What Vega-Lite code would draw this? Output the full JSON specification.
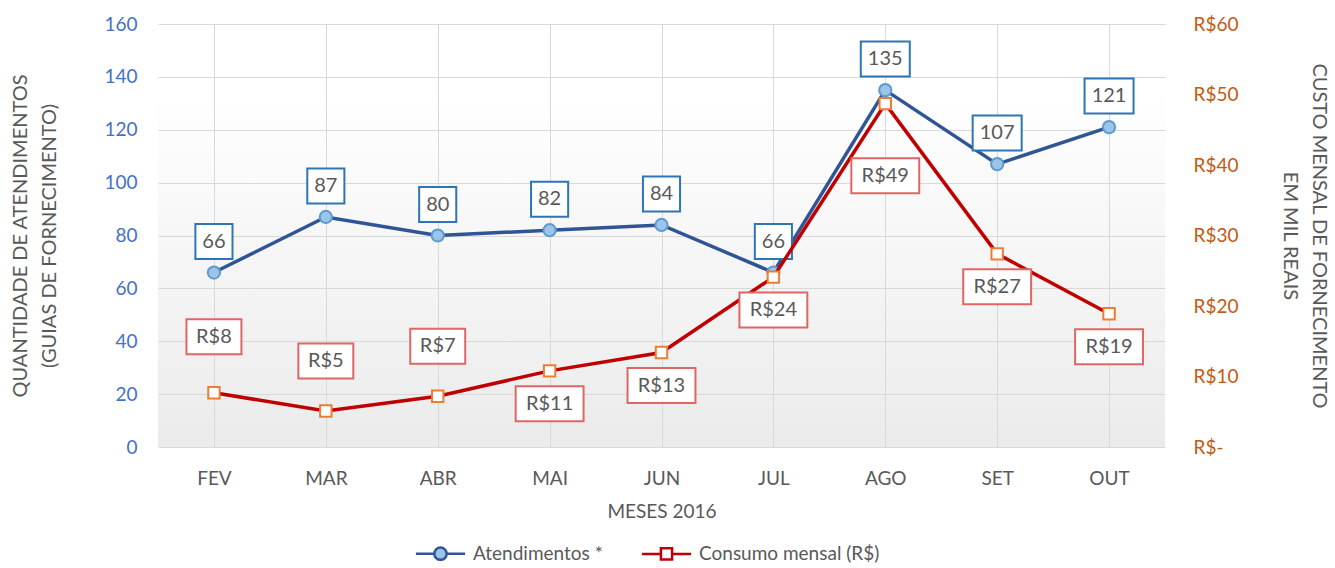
{
  "$schema": "https://vega.github.io/schema/vega-lite/v6.json",
  "width": 1007,
  "height": 423,
  "autosize": "none",
  "padding": {"left": 158, "top": 24, "right": 170, "bottom": 121},
  "background": "white",
  "data": {
    "values": [
      {"mes": "FEV", "atend": 66, "custo": 7.7},
      {"mes": "MAR", "atend": 87, "custo": 5.1},
      {"mes": "ABR", "atend": 80, "custo": 7.2},
      {"mes": "MAI", "atend": 82, "custo": 10.8},
      {"mes": "JUN", "atend": 84, "custo": 13.4},
      {"mes": "JUL", "atend": 66, "custo": 24.1},
      {"mes": "AGO", "atend": 135, "custo": 48.7},
      {"mes": "SET", "atend": 107, "custo": 27.4},
      {"mes": "OUT", "atend": 121, "custo": 18.9}
    ]
  },
  "config": {
    "font": "Lato",
    "view": {
      "stroke": null,
      "fill": {
        "gradient": "linear", "x1": 0, "y1": 0, "x2": 0, "y2": 1,
        "stops": [
          {"offset": 0, "color": "#ffffff"},
          {"offset": 0.15, "color": "#ffffff"},
          {"offset": 1, "color": "#ebebeb"}
        ]
      }
    },
    "axis": {
      "labelFont": "Lato",
      "titleFont": "Lato",
      "titleFontWeight": "normal",
      "gridColor": "#d9d9d9",
      "gridWidth": 1,
      "domain": false,
      "ticks": false
    }
  },
  "encoding": {
    "x": {
      "field": "mes",
      "type": "ordinal",
      "sort": ["FEV", "MAR", "ABR", "MAI", "JUN", "JUL", "AGO", "SET", "OUT"],
      "scale": {"type": "point", "padding": 0.5},
      "axis": {
        "labelAngle": 0,
        "labelColor": "#595959",
        "labelFontSize": 19,
        "labelPadding": 22,
        "grid": true,
        "title": "MESES 2016",
        "titleColor": "#595959",
        "titleFontSize": 19,
        "titlePadding": 14
      }
    }
  },
  "layer": [
    {
      "encoding": {
        "y": {
          "field": "atend",
          "type": "quantitative",
          "scale": {"domain": [0, 160]},
          "axis": {
            "orient": "left",
            "values": [0, 20, 40, 60, 80, 100, 120, 140, 160],
            "labelColor": "#4472C4",
            "labelFontSize": 19,
            "labelPadding": 21,
            "grid": true,
            "title": ["QUANTIDADE DE  ATENDIMENTOS", "(GUIAS DE FORNECIMENTO)"],
            "titleColor": "#595959",
            "titleFontSize": 20,
            "titleLineHeight": 29,
            "titlePadding": 44
          }
        }
      },
      "layer": [
        {
          "mark": {"type": "line", "strokeWidth": 3.5},
          "encoding": {
            "color": {
              "datum": "Atendimentos *",
              "scale": {"domain": ["Atendimentos *", "Consumo mensal (R$)"], "range": ["#2F5597", "#C00000"]},
              "legend": {
                "orient": "none",
                "legendX": 270,
                "legendY": 517,
                "direction": "horizontal",
                "title": null,
                "labelFontSize": 19,
                "labelColor": "#595959",
                "labelFont": "Lato",
                "labelLimit": 400,
                "symbolSize": 500,
                "symbolStrokeWidth": 2.5,
                "columnPadding": 33,
                "labelOffset": 20,
                "encode": {
                  "symbols": {
                    "update": {
                      "shape": {"signal": "datum.value === 'Atendimentos *' ? 'M-2.2,0H-0.55M0.55,0H2.2M-0.55,0A0.55,0.55,0,1,0,0.55,0A0.55,0.55,0,1,0,-0.55,0Z' : 'M-2.2,0H-0.5M0.5,0H2.2M-0.5,-0.5H0.5V0.5H-0.5Z'"},
                      "fill": {"signal": "datum.value === 'Atendimentos *' ? '#9DC3E6' : '#ffffff'"},
                      "fillOpacity": {"value": 1}
                    }
                  }
                }
              }
            }
          }
        },
        {
          "mark": {"type": "point", "shape": "circle", "filled": true, "fill": "#9DC3E6", "stroke": "#5B9BD5", "strokeWidth": 2, "size": 150, "opacity": 1}
        },
        {
          "transform": [{"filter": "datum.atend < 100"}],
          "mark": {"type": "point", "shape": "M-1.06,-1H1.06V1H-1.06Z", "filled": true, "fill": "#ffffff", "stroke": "#2E75B6", "strokeWidth": 2, "size": 1225, "yOffset": -31, "opacity": 1}
        },
        {
          "transform": [{"filter": "datum.atend >= 100"}],
          "mark": {"type": "point", "shape": "M-1.4,-1H1.4V1H-1.4Z", "filled": true, "fill": "#ffffff", "stroke": "#2E75B6", "strokeWidth": 2, "size": 1225, "yOffset": -31, "opacity": 1}
        },
        {
          "mark": {"type": "text", "fontSize": 20, "color": "#595959", "baseline": "middle", "yOffset": -31},
          "encoding": {"text": {"field": "atend", "type": "quantitative"}}
        }
      ]
    },
    {
      "transform": [{"calculate": "'R$' + format(datum.custo, '.0f')", "as": "lbl"}],
      "encoding": {
        "y": {
          "field": "custo",
          "type": "quantitative",
          "scale": {"domain": [0, 60]},
          "axis": {
            "orient": "right",
            "values": [0, 10, 20, 30, 40, 50, 60],
            "labelExpr": "datum.value == 0 ? 'R$-' : 'R$' + datum.value",
            "labelColor": "#C55A11",
            "labelFontSize": 19,
            "labelPadding": 28,
            "grid": false,
            "title": ["CUSTO MENSAL DE FORNECIMENTO", "EM MIL REAIS"],
            "titleColor": "#595959",
            "titleFontSize": 20,
            "titleLineHeight": 29,
            "titlePadding": 42
          }
        }
      },
      "layer": [
        {
          "mark": {"type": "line", "strokeWidth": 3.5},
          "encoding": {
            "color": {
              "datum": "Consumo mensal (R$)",
              "scale": {"domain": ["Atendimentos *", "Consumo mensal (R$)"], "range": ["#2F5597", "#C00000"]}
            }
          }
        },
        {
          "mark": {"type": "point", "shape": "square", "filled": true, "fill": "#ffffff", "stroke": "#ED7D31", "strokeWidth": 2, "size": 130, "opacity": 1}
        },
        {
          "transform": [{"filter": "datum.mes == 'FEV'"}],
          "mark": {"type": "point", "shape": "M-1.57,-1H1.57V1H-1.57Z", "filled": true, "fill": "#ffffff", "stroke": "#E06666", "strokeWidth": 2, "size": 1225, "yOffset": -56, "opacity": 1}
        },
        {
          "transform": [{"filter": "datum.mes == 'FEV'"}],
          "mark": {"type": "text", "fontSize": 20, "color": "#595959", "baseline": "middle", "yOffset": -56},
          "encoding": {"text": {"field": "lbl"}}
        },
        {
          "transform": [{"filter": "datum.mes == 'MAR' || datum.mes == 'ABR'"}],
          "mark": {"type": "point", "shape": "M-1.57,-1H1.57V1H-1.57Z", "filled": true, "fill": "#ffffff", "stroke": "#E06666", "strokeWidth": 2, "size": 1225, "yOffset": -50, "opacity": 1}
        },
        {
          "transform": [{"filter": "datum.mes == 'MAR' || datum.mes == 'ABR'"}],
          "mark": {"type": "text", "fontSize": 20, "color": "#595959", "baseline": "middle", "yOffset": -50},
          "encoding": {"text": {"field": "lbl"}}
        },
        {
          "transform": [{"filter": "datum.custo >= 9.5 && datum.mes != 'AGO'"}],
          "mark": {"type": "point", "shape": "M-1.94,-1H1.94V1H-1.94Z", "filled": true, "fill": "#ffffff", "stroke": "#E06666", "strokeWidth": 2, "size": 1225, "yOffset": 33, "opacity": 1}
        },
        {
          "transform": [{"filter": "datum.custo >= 9.5 && datum.mes != 'AGO'"}],
          "mark": {"type": "text", "fontSize": 20, "color": "#595959", "baseline": "middle", "yOffset": 33},
          "encoding": {"text": {"field": "lbl"}}
        },
        {
          "transform": [{"filter": "datum.mes == 'AGO'"}],
          "mark": {"type": "point", "shape": "M-1.94,-1H1.94V1H-1.94Z", "filled": true, "fill": "#ffffff", "stroke": "#E06666", "strokeWidth": 2, "size": 1225, "yOffset": 72, "opacity": 1}
        },
        {
          "transform": [{"filter": "datum.mes == 'AGO'"}],
          "mark": {"type": "text", "fontSize": 20, "color": "#595959", "baseline": "middle", "yOffset": 72},
          "encoding": {"text": {"field": "lbl"}}
        }
      ]
    }
  ],
  "resolve": {"scale": {"y": "independent"}}
}
